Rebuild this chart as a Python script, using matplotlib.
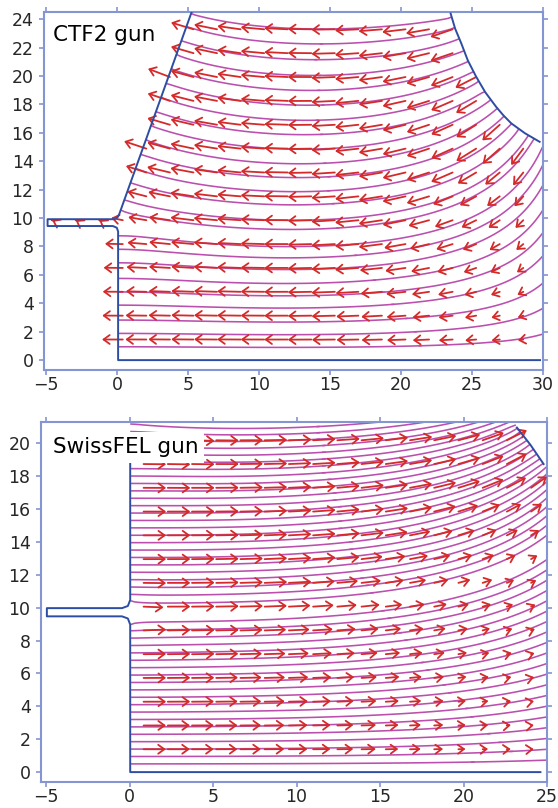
import numpy as np
import matplotlib
matplotlib.use("Agg")
import matplotlib.pyplot as plt
from matplotlib.path import Path
from matplotlib.patches import PathPatch

# ---------------- CTF2 gun (mm) ----------------
# cathode side outline: diagonal wall, iris slot, cathode plane, axis wall
ctf_cathode_x = [5.25, 0.14, 0.02, -0.2, -4.9, -4.9, -0.3, -0.02, 0.07, 0.07, 29.8]
ctf_cathode_y = [24.5, 10.25, 10.04, 9.92, 9.92, 9.44, 9.44, 9.32, 9.05, 0.0, 0.0]
# curved outer wall of the half cell
ctf_arc_x = [23.5, 23.82, 24.25, 24.71, 25.3, 25.94, 26.7, 27.21, 27.77, 28.74, 29.77]
ctf_arc_y = [24.4, 23.33, 22.3, 21.1, 19.95, 18.86, 17.84, 17.24, 16.67, 15.97, 15.37]
# wall continuation outside the plotted window (field solver only)
ctf_nose = [(30.8, 14.95), (33.5, 14.8), (40.0, 14.8), (40.0, 35.0),
            (24.5, 35.0), (23.6, 27.0), (23.45, 25.5)]
ctf_top = [(23.9, 30.0), (7.22, 30.0)]
# field lines leave the cathode wall at these heights
ctf_seed_y = [0.94, 1.88, 2.82, 3.87, 4.8, 5.75, 6.85, 7.8, 8.75,
              10.45, 11.2, 12.4, 13.4, 14.4, 15.4, 16.4, 17.4, 18.4,
              19.4, 20.4, 21.4, 22.4, 23.4, 24.3]

# ---------------- SwissFEL gun (mm) ----------------
swf_cathode_x = [0.04, 0.04, -0.1, -0.45, -4.95, -4.95, -0.45, -0.1, 0.04, 0.04, 24.6]
swf_cathode_y = [20.6, 10.47, 10.1, 9.97, 9.97, 9.47, 9.47, 9.34, 8.97, 0.0, 0.0]
swf_arc_x = [23.19, 24.0, 24.79]
swf_arc_y = [20.95, 19.9, 18.73]
swf_nose = [(25.6, 17.9), (26.8, 17.0), (28.4, 16.35), (30.2, 15.9), (34.5, 15.7),
            (40.0, 15.7), (40.0, 35.0), (22.4, 35.0), (22.0, 25.7), (22.4, 23.0)]
swf_top = [(22.1, 28.0), (0.04, 28.0)]
swf_seed_y = [0.5, 0.95, 1.4, 1.85, 2.3, 2.75, 3.2, 3.65, 4.1, 4.55, 5.0, 5.45,
              5.9, 6.35, 6.8, 7.25, 7.7, 8.15, 8.6, 9.05, 10.35, 10.8, 11.25,
              11.7, 12.15, 12.6, 13.05, 13.5, 13.95, 14.4, 14.85, 15.3, 15.75,
              16.2, 16.65, 17.1, 17.55, 18.0, 18.45, 18.9, 19.35, 19.8, 20.25,
              20.7, 21.15]

LINE_C = "#bb4fae"
ARROW_C = "#d42a2a"
WALL_C = "#2d4da3"
SPINE_C = "#8595d2"
H = 0.2


def solve_potential(xg, yg, metal_hi, metal_lo, n_iter=3000, omega=1.96):
    """Red/black SOR for the axisymmetric Laplace equation (y is the radius)."""
    X, Y = np.meshgrid(xg, yg)
    phi = np.clip(1.0 - X / xg[-1], 0, 1)
    phi[metal_hi] = 1.0
    phi[metal_lo] = 0.0
    free = ~(metal_hi | metal_lo)
    r = np.where(Y > 0, Y, 1.0)
    w_n = np.where(Y > 0, 1 + H / (2 * r), 4.0)
    w_s = np.where(Y > 0, 1 - H / (2 * r), 0.0)
    denom = 2.0 + w_n + w_s
    par = np.add.outer(np.arange(len(yg)), np.arange(len(xg))) % 2
    masks = [(free & (par == k)).astype(float) for k in (0, 1)]
    for _ in range(n_iter):
        for m in masks:
            p = np.pad(phi, 1, mode="reflect")
            avg = (p[1:-1, :-2] + p[1:-1, 2:] + w_n * p[2:, 1:-1] + w_s * p[:-2, 1:-1]) / denom
            phi += omega * (avg - phi) * m
    return phi


def bilinear(F, xg, yg, x, y):
    fx = (x - xg[0]) / H
    fy = (y - yg[0]) / H
    i = int(np.clip(np.floor(fx), 0, len(xg) - 2))
    j = int(np.clip(np.floor(fy), 0, len(yg) - 2))
    tx, ty = fx - i, fy - j
    return ((1 - tx) * (1 - ty) * F[j, i] + tx * (1 - ty) * F[j, i + 1]
            + (1 - tx) * ty * F[j + 1, i] + tx * ty * F[j + 1, i + 1])


def draw_panel(ax, cath_x, cath_y, arc_x, arc_y, nose, top, seed_y, xmax, ymax,
               cols, rows, sign, ref_pt, ref_len, max_len, gamma):
    cath = list(zip(cath_x, cath_y))
    arc = list(zip(arc_x, arc_y))
    left_metal = [(-10, -1), (cath[-2][0], -1)] + cath[::-1][1:]
    left_metal += [(left_metal[-1][0] + 3.0, 40), (-10, 40)]
    right_metal = arc + nose
    free_poly = cath + [(xmax, 0), (xmax, nose[1][1])] + nose[:1] + arc[::-1]
    free_poly += list(reversed(nose[-2:])) + top

    xg = np.arange(-5.6, xmax + 1e-6, H)
    yg = np.arange(0.0, ymax + 1e-6, H)
    X, Y = np.meshgrid(xg, yg)
    pts = np.column_stack([X.ravel(), Y.ravel()])
    hi = Path(left_metal).contains_points(pts).reshape(X.shape)
    lo = Path(right_metal).contains_points(pts).reshape(X.shape)
    phi = solve_potential(xg, yg, hi, lo)
    gy, gx = np.gradient(phi, H)
    ex, ey = -gx, -gy

    free_path = Path(free_poly)
    clip = PathPatch(free_path, transform=ax.transData)

    # field lines from the cathode wall
    wall_x = np.interp(seed_y, cath_y[::-1][1:], cath_x[::-1][1:])
    seeds = np.column_stack([wall_x + 0.3, seed_y])
    strm = ax.streamplot(xg, yg, ex, ey, start_points=seeds, color=LINE_C,
                         linewidth=1.15, density=4, arrowstyle="-",
                         broken_streamlines=False, integration_direction="both",
                         maxlength=10.0)
    strm.lines.set_clip_path(clip)
    strm.arrows.set_visible(False)

    # arrow grid, tail anchored
    emag_ref = np.hypot(bilinear(ex, xg, yg, *ref_pt), bilinear(ey, xg, yg, *ref_pt))
    for y0 in rows:
        for x0 in cols:
            if not free_path.contains_point((x0, y0)):
                continue
            u = bilinear(ex, xg, yg, x0, y0) * sign
            v = bilinear(ey, xg, yg, x0, y0) * sign
            mag = np.hypot(u, v)
            if mag == 0:
                continue
            length = min(ref_len * (mag / emag_ref) ** gamma, max_len)
            ax.annotate("", xy=(x0 + u / mag * length, y0 + v / mag * length),
                        xytext=(x0, y0),
                        arrowprops=dict(arrowstyle="->,head_length=0.55,head_width=0.4",
                                        color=ARROW_C, lw=1.3, shrinkA=0, shrinkB=0,
                                        mutation_scale=8),
                        zorder=4)

    ax.plot(cath_x, cath_y, color=WALL_C, lw=1.4, zorder=5, solid_joinstyle="round")
    ax.plot(arc_x, arc_y, color=WALL_C, lw=1.4, zorder=5, solid_joinstyle="round")


def style_axes(ax, xlim, ylim, xticks, yticks):
    ax.set_xlim(*xlim)
    ax.set_ylim(*ylim)
    ax.set_xticks(xticks)
    ax.set_yticks(yticks)
    for s in ax.spines.values():
        s.set_color(SPINE_C)
        s.set_linewidth(1.5)
    ax.tick_params(direction="out", length=3.5, width=1.2, color=SPINE_C,
                   labelsize=12.5, labelcolor="#262626", top=True, right=True,
                   labeltop=False, labelright=False)
    ax.tick_params(axis="x", pad=0.8)
    ax.tick_params(axis="y", pad=4.0)


fig = plt.figure(figsize=(5.58, 8.08), dpi=100)
ax1 = fig.add_axes([0.0789, 0.542, 0.894, 0.443])
ax2 = fig.add_axes([0.0735, 0.0322, 0.907, 0.4458])

draw_panel(ax1, ctf_cathode_x, ctf_cathode_y, ctf_arc_x, ctf_arc_y, ctf_nose, ctf_top,
           ctf_seed_y, 33.0, 30.0,
           cols=np.arange(-3, 18) * 1.66 + 0.4, rows=np.arange(14) * 1.68 + 1.45,
           sign=-1, ref_pt=(5.0, 5.0), ref_len=1.55, max_len=1.65, gamma=1.4)
style_axes(ax1, (-5.15, 30), (-0.7, 24.5), range(-5, 31, 5), range(0, 25, 2))
ax1.text(0.018, 0.92, "CTF2 gun", transform=ax1.transAxes, fontsize=15.5,
         va="baseline", ha="left", zorder=10,
         bbox=dict(boxstyle="square,pad=0.25", fc="white", ec="none"))

draw_panel(ax2, swf_cathode_x, swf_cathode_y, swf_arc_x, swf_arc_y, swf_nose, swf_top,
           swf_seed_y, 34.0, 28.0,
           cols=np.arange(-4, 17) * 1.45 + 0.84, rows=np.arange(14) * 1.445 + 1.39,
           sign=1, ref_pt=(5.0, 5.0), ref_len=1.3, max_len=1.35, gamma=3.2)
style_axes(ax2, (-5.3, 25), (-0.6, 21.3), range(-5, 26, 5), range(0, 21, 2))
ax2.text(0.024, 0.912, "SwissFEL gun", transform=ax2.transAxes, fontsize=15.5,
         va="baseline", ha="left", zorder=10,
         bbox=dict(boxstyle="square,pad=0.25", fc="white", ec="none"))

fig.savefig("out.png", dpi=100)
